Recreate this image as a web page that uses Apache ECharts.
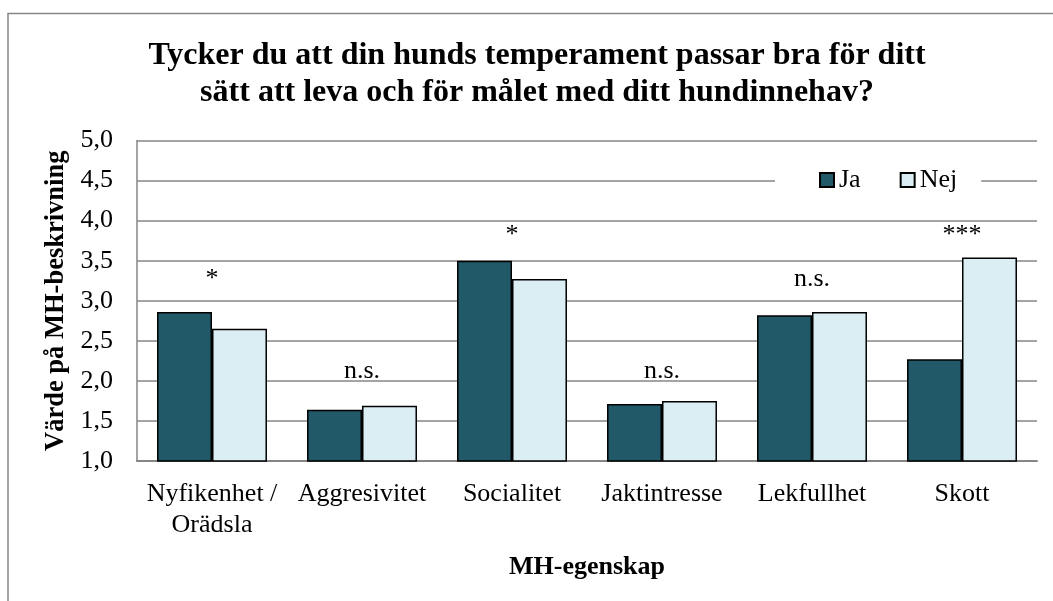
<!DOCTYPE html>
<html>
<head>
<meta charset="utf-8">
<script src="https://cdn.jsdelivr.net/npm/echarts@6/dist/echarts.min.js"></script>
<style>
  html, body { margin: 0; padding: 0; background: #fff; }
  #chart { width: 1053px; height: 601px; }
</style>
</head>
<body>
<div id="chart"></div>
<script>
// values
const categories = ['Nyfikenhet /\nOrädsla', 'Aggresivitet', 'Socialitet', 'Jaktintresse', 'Lekfullhet', 'Skott'];
const jaValues = [2.86, 1.64, 3.50, 1.71, 2.82, 2.27];
const nejValues = [2.65, 1.69, 3.27, 1.75, 2.86, 3.54];
const sigLabels = ['*', 'n.s.', '*', 'n.s.', 'n.s.', '***'];
const sigLevels = [3.27, 2.12, 3.82, 2.12, 3.27, 3.82];

const FONT = '"Liberation Serif", "Times New Roman", serif';
const GRID_GRAY = '#868686';

const chart = echarts.init(document.getElementById('chart'));

const option = {
    backgroundColor: '#fff',
    animation: false,
    textStyle: {fontFamily: FONT},
    graphic: [{
        type: 'rect',
        shape: {x: 8, y: 13.5, width: 1100, height: 700},
        style: {fill: 'none', stroke: GRID_GRAY, lineWidth: 1.5},
        z: -1
    }],
    title: {
        text: 'Tycker du att din hunds temperament passar bra för ditt\nsätt att leva och för målet med ditt hundinnehav?',
        left: 537,
        top: 37,
        padding: 0,
        textAlign: 'center',
        textStyle: {
            fontFamily: FONT,
            fontSize: 32,
            fontWeight: 'bold',
            color: '#000',
            lineHeight: 37
        }
    },
    legend: {
        data: ['Ja', 'Nej'],
        left: 775,
        top: 163,
        padding: [4, 24, 4, 44],
        backgroundColor: '#fff',
        itemWidth: 14,
        itemHeight: 14,
        itemGap: 39,
        icon: 'rect',
        textStyle: {fontFamily: FONT, fontSize: 26, color: '#000'},
        z: 5
    },
    grid: {
        left: 137,
        right: 16,
        top: 140.5,
        bottom: 140,
        containLabel: false
    },
    xAxis: {
        type: 'category',
        data: categories,
        name: 'MH-egenskap',
        nameLocation: 'middle',
        nameGap: 93,
        nameTextStyle: {fontFamily: FONT, fontSize: 26, fontWeight: 'bold', color: '#000'},
        axisLine: {lineStyle: {color: GRID_GRAY, width: 2}},
        axisTick: {show: false},
        axisLabel: {
            margin: 18,
            interval: 0,
            fontFamily: FONT,
            fontSize: 26,
            lineHeight: 31,
            color: '#000'
        }
    },
    yAxis: {
        type: 'value',
        min: 1,
        max: 5,
        interval: 0.5,
        name: 'Värde på MH-beskrivning',
        nameLocation: 'middle',
        nameGap: 62,
        nameTextStyle: {fontFamily: FONT, fontSize: 26.5, fontWeight: 'bold', color: '#000'},
        axisLine: {show: true, lineStyle: {color: GRID_GRAY, width: 1.5}},
        axisTick: {show: false},
        axisLabel: {
            margin: 24,
            fontFamily: FONT,
            fontSize: 26,
            color: '#000',
            formatter: v => v.toFixed(1).replace('.', ',')
        },
        splitLine: {lineStyle: {color: GRID_GRAY, width: 1.5}}
    },
    series: [
        {
            name: 'Ja',
            type: 'bar',
            data: jaValues,
            barGap: '0%',
            barCategoryGap: '26.7%',
            itemStyle: {color: '#215968', borderColor: '#000', borderWidth: 1.5}
        },
        {
            name: 'Nej',
            type: 'bar',
            data: nejValues,
            barGap: '0%',
            barCategoryGap: '26.7%',
            itemStyle: {color: '#DAEEF3', borderColor: '#000', borderWidth: 1.5}
        },
        {
            name: 'sig',
            type: 'scatter',
            silent: true,
            symbolSize: 0,
            itemStyle: {opacity: 1},
            data: sigLevels.map((v, i) => ({value: [i, v], name: sigLabels[i]})),
            label: {
                show: true,
                position: 'inside',
                formatter: p => p.name,
                fontFamily: FONT,
                fontSize: 26,
                color: '#000',
                opacity: 1
            },
            z: 4
        }
    ]
};

chart.setOption(option);
</script>
</body>
</html>
